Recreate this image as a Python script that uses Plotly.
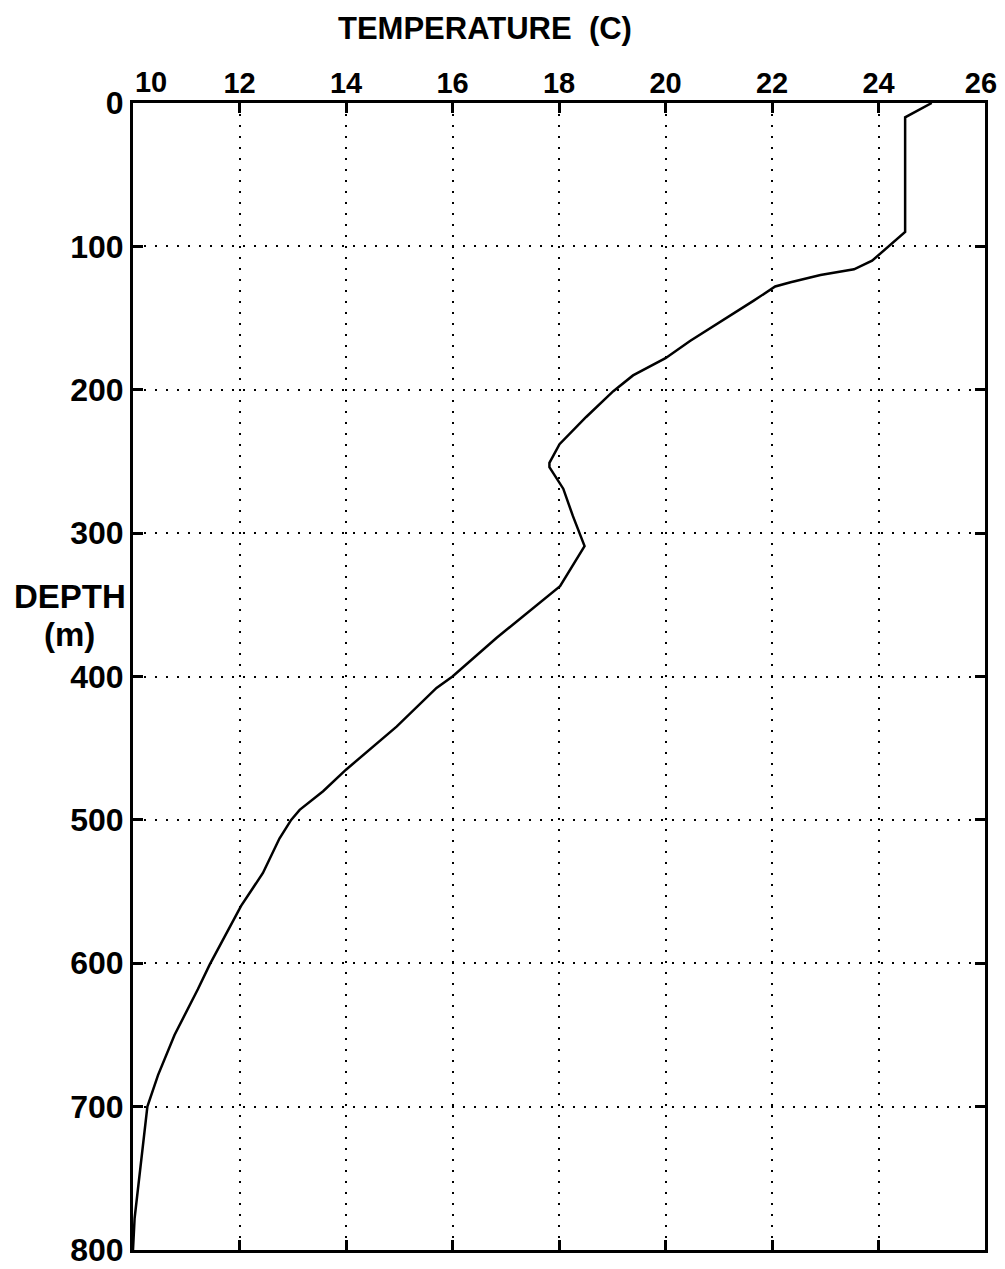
import plotly.graph_objects as go

depth_m = [0, 10, 90, 100, 110, 116, 120, 125, 128, 138, 157, 166, 178, 190, 201,
           219, 238, 251, 254, 269, 288, 309, 337, 358, 373, 400, 408, 435, 451,
           465, 480, 493, 500, 513, 537, 560, 601, 618, 650, 678, 700, 778, 800]
temp_c = [25.0, 24.5, 24.5, 24.2, 23.88, 23.54, 22.91, 22.35, 22.06, 21.65, 20.84,
          20.46, 20.0, 19.39, 19.02, 18.51, 18.01, 17.82, 17.82, 18.08, 18.26, 18.48,
          18.02, 17.33, 16.83, 16.0, 15.70, 14.95, 14.45, 14.0, 13.57, 13.13, 12.97,
          12.75, 12.44, 12.03, 11.44, 11.22, 10.78, 10.47, 10.27, 10.03, 10.0]

x_ticks = [10, 12, 14, 16, 18, 20, 22, 24, 26]
x_ticktext = ["", "12", "14", "16", "18", "20", "22", "24", "26\u00a0"]
first_x_tick = [10]
first_x_ticktext = ["10"]
y_ticks = [0, 100, 200, 300, 400, 500, 600, 700, 800]

FONT = "Liberation Sans, Arial, sans-serif"

# page offset of the default html body margin
OFF = 8
L, R, T, B = 133, 985, 103, 1250  # target plot-area pixels in the page
W, H = 1005 - OFF, 1269 - OFF

fig = go.Figure()
fig.add_trace(go.Scatter(x=temp_c, y=depth_m, mode="lines",
                         line=dict(color="black", width=2.5), showlegend=False,
                         hoverinfo="x+y"))
# same profile on the overlaid axis carrying the shifted "10" label (invisible)
fig.add_trace(go.Scatter(x=temp_c, y=depth_m, mode="lines", xaxis="x2",
                         line=dict(color="black", width=2.5), opacity=0,
                         showlegend=False, hoverinfo="skip"))

axis_common = dict(
    showline=True, linecolor="black", linewidth=3, mirror="ticks",
    ticks="inside", ticklen=10, tickwidth=3, tickcolor="black",
    showgrid=True, gridcolor="black", gridwidth=2, griddash="2px,9px",
    zeroline=False, ticklabeloverflow="allow",
)

xfont = dict(family=FONT, size=29, color="black", weight="bold")
fig.update_layout(
    xaxis=dict(range=[10, 26], side="top", tickmode="array", tickvals=x_ticks,
               ticktext=x_ticktext, ticklabelstandoff=-5, tickfont=xfont,
               **axis_common),
    xaxis2=dict(range=[10, 26], matches="x", overlaying="x", side="top",
                tickmode="array", tickvals=first_x_tick, ticktext=first_x_ticktext,
                ticklabelstandoff=4, ticklabelshift=18, tickfont=xfont,
                ticks="", showline=False, showgrid=False, zeroline=False,
                ticklabeloverflow="allow"),
    yaxis=dict(range=[800, 0], tickmode="array", tickvals=y_ticks,
               ticktext=[str(v) for v in y_ticks],
               tickfont=dict(family=FONT, size=32, color="black", weight="bold"),
               **axis_common),
)

pw, ph = R - L, B - T
fig.add_annotation(text="<b>TEMPERATURE  (C)</b>", xref="paper", yref="paper",
                   x=(485 - L) / pw, y=1 + (T - 28) / ph,
                   xanchor="center", yanchor="middle", showarrow=False,
                   font=dict(family=FONT, size=31, color="black"))
fig.add_annotation(text="<b>DEPTH</b>", xref="paper", yref="paper",
                   x=-(L - 70) / pw, y=1 - (596 - T) / ph,
                   xanchor="center", yanchor="middle", showarrow=False,
                   font=dict(family=FONT, size=33, color="black"))
fig.add_annotation(text="<b>(m)</b>", xref="paper", yref="paper",
                   x=-(L - 69) / pw, y=1 - (634 - T) / ph,
                   xanchor="center", yanchor="middle", showarrow=False,
                   font=dict(family=FONT, size=33, color="black"))

fig.update_layout(width=W, height=H,
                  margin=dict(l=L - OFF, r=1005 - R, t=T - OFF, b=1269 - B,
                              autoexpand=False),
                  paper_bgcolor="white", plot_bgcolor="white")

fig.write_html("out.html")
